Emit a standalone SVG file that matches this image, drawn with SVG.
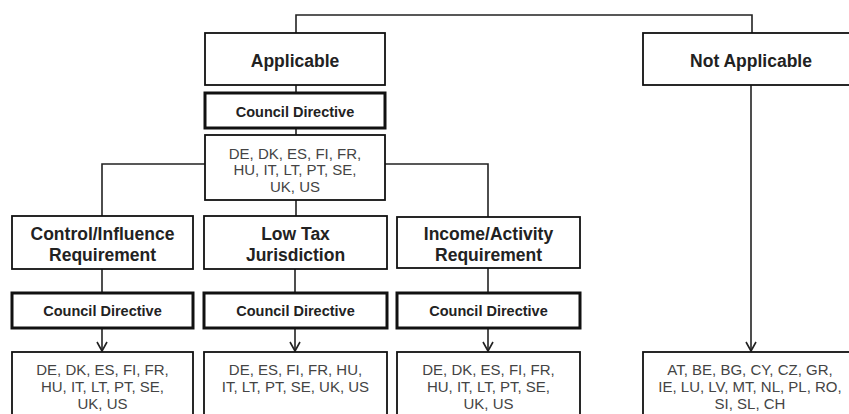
<svg xmlns="http://www.w3.org/2000/svg" width="849" height="414" viewBox="0 0 849 414">
<style>
.box{fill:#fff;stroke:#111;stroke-width:1.8}
.cd{fill:#fff;stroke:#111;stroke-width:3}
.t{font-family:"Liberation Sans",Arial,sans-serif;font-weight:bold;font-size:17.5px;fill:#222;text-anchor:middle}
.c{font-family:"Liberation Sans",Arial,sans-serif;font-weight:bold;font-size:14.5px;fill:#222;text-anchor:middle}
.n{font-family:"Liberation Sans",Arial,sans-serif;font-size:15px;fill:#444;text-anchor:middle}
.l{fill:none;stroke:#222;stroke-width:1.6}
</style>
<defs>
<marker id="arr" viewBox="0 0 12 12" refX="10" refY="6" markerWidth="12" markerHeight="12" markerUnits="userSpaceOnUse" orient="auto">
<path d="M1,1 L10,6 L1,11" fill="none" stroke="#222" stroke-width="1.6"/>
</marker>
</defs>
<rect width="849" height="414" fill="#fff"/>
<g id="connectors">
<polyline class="l" points="296,33 296,15 752,15 752,33"/>
<line class="l" x1="296" y1="85" x2="296" y2="93"/>
<line class="l" x1="296" y1="128" x2="296" y2="135"/>
<polyline class="l" points="205,164 102,164 102,216"/>
<polyline class="l" points="385,164 488,164 488,217"/>
<line class="l" x1="296" y1="200" x2="296" y2="216"/>
<line class="l" x1="102" y1="269" x2="102" y2="293"/>
<line class="l" x1="295" y1="269" x2="295" y2="293"/>
<line class="l" x1="488" y1="268" x2="488" y2="293"/>
<line class="l" x1="102" y1="328" x2="102" y2="351" marker-end="url(#arr)"/>
<line class="l" x1="295" y1="328" x2="295" y2="351" marker-end="url(#arr)"/>
<line class="l" x1="488" y1="328" x2="488" y2="351" marker-end="url(#arr)"/>
<line class="l" x1="751" y1="85" x2="751" y2="351" marker-end="url(#arr)"/>
</g>
<g id="applicable">
<rect class="box" x="205" y="33" width="180" height="52"/>
<text class="t" x="295" y="66.5">Applicable</text>
</g>
<g id="not-applicable">
<rect class="box" x="643" y="33" width="220" height="52"/>
<text class="t" x="751" y="66.5">Not Applicable</text>
</g>
<g id="cd-top">
<rect class="cd" x="205" y="93" width="180" height="35"/>
<text class="c" x="295" y="117">Council Directive</text>
</g>
<g id="countries-top">
<rect class="box" x="205" y="135" width="180" height="65"/>
<text class="n" x="295" y="158.5">DE, DK, ES, FI, FR,</text>
<text class="n" x="295" y="175">HU, IT, LT, PT, SE,</text>
<text class="n" x="295" y="191.5">UK, US</text>
</g>
<g id="control">
<rect class="box" x="12" y="216" width="181" height="53"/>
<text class="t" x="102.5" y="240">Control/Influence</text>
<text class="t" x="102.5" y="261">Requirement</text>
</g>
<g id="lowtax">
<rect class="box" x="204" y="216" width="183" height="53"/>
<text class="t" x="295.5" y="240">Low Tax</text>
<text class="t" x="295.5" y="261">Jurisdiction</text>
</g>
<g id="income">
<rect class="box" x="397" y="217" width="183" height="51"/>
<text class="t" x="488.5" y="240">Income/Activity</text>
<text class="t" x="488.5" y="261">Requirement</text>
</g>
<g id="cd-control">
<rect class="cd" x="12" y="293" width="181" height="35"/>
<text class="c" x="102.5" y="316">Council Directive</text>
</g>
<g id="cd-lowtax">
<rect class="cd" x="204" y="293" width="183" height="35"/>
<text class="c" x="295.5" y="316">Council Directive</text>
</g>
<g id="cd-income">
<rect class="cd" x="397" y="293" width="183" height="35"/>
<text class="c" x="488.5" y="316">Council Directive</text>
</g>
<g id="countries-control">
<rect class="box" x="12" y="352" width="181" height="70"/>
<text class="n" x="102.5" y="375">DE, DK, ES, FI, FR,</text>
<text class="n" x="102.5" y="392">HU, IT, LT, PT, SE,</text>
<text class="n" x="102.5" y="409">UK, US</text>
</g>
<g id="countries-lowtax">
<rect class="box" x="204" y="352" width="183" height="70"/>
<text class="n" x="295.5" y="375">DE, ES, FI, FR, HU,</text>
<text class="n" x="295.5" y="392">IT, LT, PT, SE, UK, US</text>
</g>
<g id="countries-income">
<rect class="box" x="397" y="352" width="183" height="70"/>
<text class="n" x="488.5" y="375">DE, DK, ES, FI, FR,</text>
<text class="n" x="488.5" y="392">HU, IT, LT, PT, SE,</text>
<text class="n" x="488.5" y="409">UK, US</text>
</g>
<g id="countries-not">
<rect class="box" x="643" y="352" width="220" height="70"/>
<text class="n" x="750" y="375">AT, BE, BG, CY, CZ, GR,</text>
<text class="n" x="750" y="392">IE, LU, LV, MT, NL, PL, RO,</text>
<text class="n" x="750" y="409">SI, SL, CH</text>
</g>
</svg>
